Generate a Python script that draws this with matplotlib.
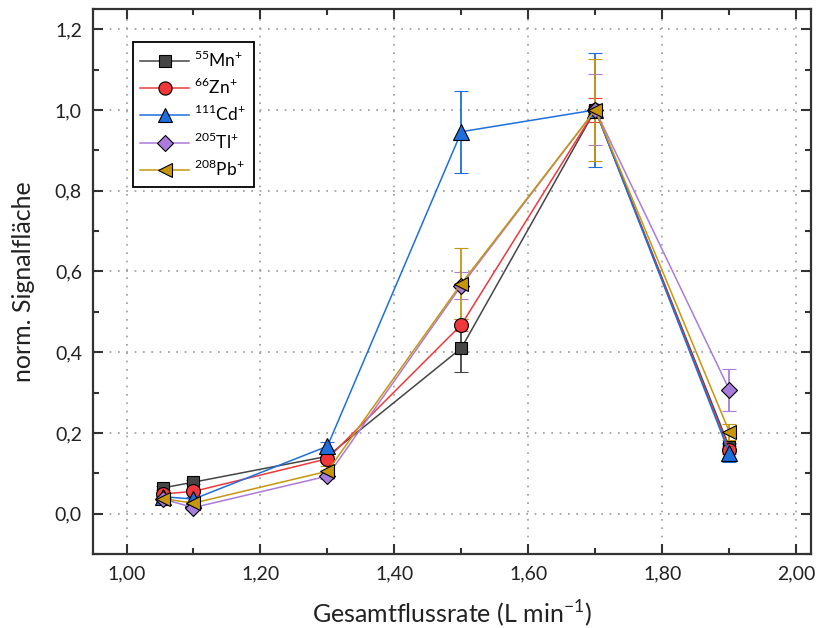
import matplotlib.pyplot as plt
from matplotlib.lines import Line2D
from matplotlib.ticker import MultipleLocator, FuncFormatter

plt.rcParams['font.family'] = ['Lato', 'DejaVu Sans']
plt.rcParams['mathtext.fontset'] = 'custom'
plt.rcParams['mathtext.rm'] = 'Lato'

# flow rates
flow = [1.055, 1.10, 1.30, 1.50, 1.70, 1.90]

# normalised signal areas per isotope
mn = [0.064, 0.078, 0.142, 0.410, 1.000, 0.165]
zn = [0.049, 0.055, 0.136, 0.468, 1.000, 0.157]
cd = [0.042, 0.036, 0.167, 0.946, 1.000, 0.150]
tl = [0.036, 0.015, 0.093, 0.565, 1.000, 0.307]
pb = [0.037, 0.026, 0.105, 0.570, 1.000, 0.203]

# standard deviations
mn_err = [0.005, 0.005, 0.008, 0.058, 0.010, 0.010]
zn_err = [0.005, 0.005, 0.008, 0.015, 0.030, 0.010]
cd_err = [0.006, 0.006, 0.010, 0.102, 0.142, 0.022]
tl_err = [0.006, 0.005, 0.008, 0.033, 0.088, 0.052]
pb_err = [0.006, 0.006, 0.012, 0.087, 0.127, 0.020]

labels = [r"$^{55}$Mn$^{+}$", r"$^{66}$Zn$^{+}$", r"$^{111}$Cd$^{+}$",
          r"$^{205}$Tl$^{+}$", r"$^{208}$Pb$^{+}$"]
colors = ["#454545", "#f0383c", "#1e6fde", "#a97bdc", "#c8960c"]
markers = ["s", "o", "^", "D", "<"]
sizes = [9, 10, 11, 8.5, 10]

fig = plt.figure(figsize=(8.21, 6.28), dpi=100)
ax = fig.add_axes([0.1133, 0.1178, 0.8745, 0.8679])

series = [(mn, mn_err), (zn, zn_err), (cd, cd_err), (tl, tl_err), (pb, pb_err)]
handles = []
for (vals, errs), lab, c, m, s in zip(series, labels, colors, markers, sizes):
    ax.errorbar(flow, vals, yerr=errs, color=c, lw=1.1, marker=m, ms=s,
                mfc=c, mec="black", mew=0.8, ecolor=c, elinewidth=1.3,
                capsize=5, capthick=1.3)
    # legend entries without error bars
    handles.append(Line2D([], [], color=c, lw=1.1, marker=m, ms=s * 0.95,
                          mfc=c, mec="black", mew=0.8, label=lab))

ax.set_xlim(0.95, 2.022)
ax.set_ylim(-0.1, 1.25)
ax.xaxis.set_major_locator(MultipleLocator(0.2))
ax.xaxis.set_minor_locator(MultipleLocator(0.1))
ax.yaxis.set_major_locator(MultipleLocator(0.2))
ax.yaxis.set_minor_locator(MultipleLocator(0.1))
ax.xaxis.set_major_formatter(FuncFormatter(lambda v, p: f"{v:.2f}".replace(".", ",")))
ax.yaxis.set_major_formatter(FuncFormatter(lambda v, p: f"{v:.1f}".replace(".", ",")))
ax.tick_params(which="both", direction="in", top=True, right=True,
               color="#333333", labelsize=14, labelcolor="#222222", pad=8)
ax.tick_params(which="major", length=7, width=1.5)
ax.tick_params(which="minor", length=4, width=1.5)
ax.grid(True, which="major", ls=(0, (1, 4)), color="#999999", lw=1.2)
for sp in ax.spines.values():
    sp.set_linewidth(1.6)
    sp.set_color("#333333")

ax.set_xlabel("Gesamtflussrate (L min$^{-1}$)", fontsize=18, color="#222222",
              labelpad=12)
ax.set_ylabel("norm. Signalfläche", fontsize=18, color="#222222", labelpad=14)

leg = ax.legend(handles=handles, loc="upper left", bbox_to_anchor=(0.055, 0.94),
                fontsize=12.5, fancybox=False, edgecolor="black", framealpha=1,
                handlelength=2.8, handletextpad=0.3, borderpad=0.45,
                labelspacing=0.42, borderaxespad=0)
leg.get_frame().set_linewidth(1.3)

fig.savefig("out.png", dpi=100)
